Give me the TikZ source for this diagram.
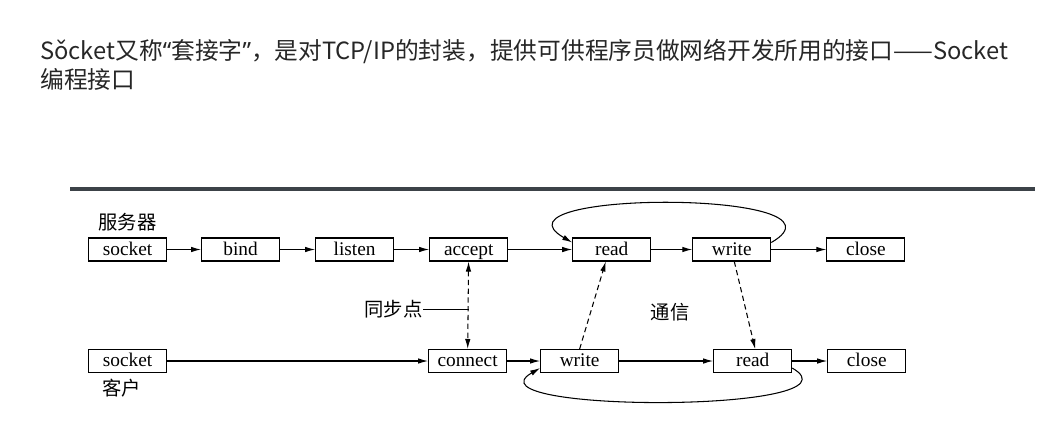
\documentclass[tikz,border=0pt]{standalone}
\usepackage{fontspec}
\setmainfont{Liberation Serif}
\newfontfamily\cjkfont{Noto Sans CJK SC}
\newfontfamily\quotefont{Noto Sans}
\usetikzlibrary{arrows.meta,positioning,calc}

\begin{document}
\begin{tikzpicture}[
  node distance=0.7cm,
  fn/.style={draw, rectangle, minimum width=1.56cm, minimum height=0.46cm, inner sep=0pt, text height=1.7ex, text depth=0.3ex, line width=0.6pt, font=\fontsize{11}{12}\selectfont},
  lbl/.style={inner sep=0pt, font=\cjkfont\fontsize{11}{12}\selectfont},
  arrow/.style={-{Latex[length=2mm,width=1.1mm]}, line width=0.6pt},
  dasharrow/.style={arrow, dash pattern=on 3pt off 2pt},
  syncarrow/.style={dasharrow, {Latex[length=2mm,width=1.1mm]}-{Latex[length=2mm,width=1.1mm]}}
]
  \useasboundingbox (0,0) rectangle (21.1,-8.82);

  % Heading
  \node[anchor=north west, inner sep=0pt, align=left, text=black!85, font=\cjkfont\fontsize{13.5}{16.5}\selectfont] (title) at (0.8,-0.78)
    {Sǒcket又称{\quotefont “}套接字{\quotefont ”}，是对TCP/IP的封装，提供可供程序员做网络开发所用的接口——Socket\\编程接口};
  \draw[line width=2.2pt, color={rgb,255:red,60;green,66;blue,72}] (1.4,-3.78) -- (20.7,-3.78);

  % Server
  \node[fn, anchor=west] (sock_s) at (1.76,-4.99) {socket};
  \node[fn, right=0.68cm of sock_s] (bind) {bind};
  \node[fn, right=of bind] (listen) {listen};
  \node[fn, right=of listen] (accept) {accept};
  \node[fn, right=1.28cm of accept] (read_s) {read};
  \node[fn, right=0.82cm of read_s] (write_s) {write};
  \node[fn, right=1.1cm of write_s] (close_s) {close};
  \node[lbl, above=0.12cm of sock_s] (server) {服务器};

  % Client
  \node[fn, anchor=west] (sock_c) at (1.76,-7.22) {socket};
  \node[fn, right=5.22cm of sock_c] (connect) {connect};
  \node[fn, right=0.66cm of connect] (write_c) {write};
  \node[fn, right=1.88cm of write_c] (read_c) {read};
  \node[fn, right=of read_c] (close_c) {close};
  \node[lbl, below=0.12cm of sock_c, xshift=-0.12cm] (client) {客户};

  \node[lbl, anchor=east] (sync) at (8.46,-6.18) {同步点};
  \node[lbl] (comm) at (13.4,-6.24) {通信};

  % Arrows
  \draw[arrow] (sock_s) -- (bind);
  \draw[arrow] (bind) -- (listen);
  \draw[arrow] (listen) -- (accept);
  \draw[arrow] (accept) -- (read_s);
  \draw[arrow] (read_s) -- (write_s);
  \draw[arrow] (write_s) -- (close_s);
  \draw[arrow] ([yshift=-0.1cm]write_s.north east) to[out=30, in=150, looseness=1.36] ([yshift=-0.1cm]read_s.north west);

  \draw[arrow] (sock_c) -- (connect);
  \draw[arrow] (connect) -- (write_c);
  \draw[arrow] (write_c) -- (read_c);
  \draw[arrow] (read_c) -- (close_c);
  \draw[arrow] ([yshift=0.1cm]read_c.south east) to[out=-30, in=-150, looseness=0.92] ([yshift=0.1cm]write_c.south west);

  \draw[syncarrow] (accept) -- (connect);
  \draw[line width=0.5pt] (sync) -- (sync -| accept);

  \draw[dasharrow] (write_c.north) -- ([xshift=-0.12cm]read_s.south);
  \draw[dasharrow] ([xshift=0.05cm]write_s.south) -- ([xshift=0.05cm]read_c.north);
\end{tikzpicture}
\end{document}
